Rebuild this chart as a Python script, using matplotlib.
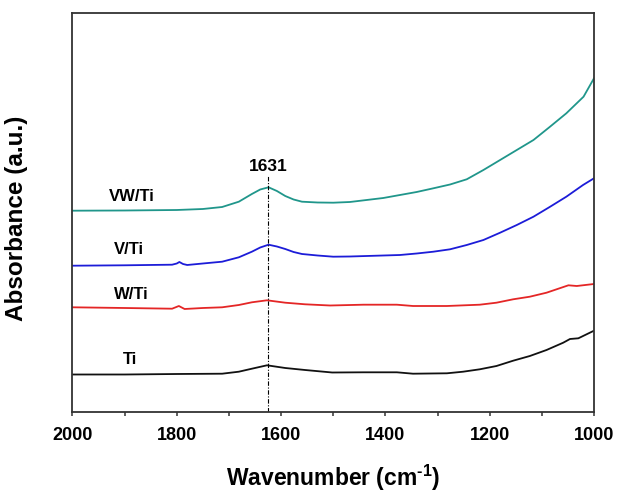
import numpy as np
import matplotlib.pyplot as plt
from matplotlib.ticker import MultipleLocator

plt.rcParams['font.family'] = ['Liberation Sans', 'DejaVu Sans']
plt.rcParams['font.weight'] = 'bold'
plt.rcParams['mathtext.fontset'] = 'custom'
plt.rcParams['mathtext.rm'] = 'Liberation Sans:bold'
plt.rcParams['mathtext.default'] = 'rm'

# FTIR spectra, absorbance in arbitrary units (offset traces)
wn_vwti = [2000, 1900, 1800, 1750, 1713, 1681, 1656, 1640, 1624, 1608, 1592, 1576,
           1560, 1530, 1500, 1468, 1436, 1404, 1372, 1340, 1308, 1276, 1244, 1212,
           1180, 1148, 1116, 1085, 1053, 1020, 1000]
abs_vwti = [2.013, 2.015, 2.02, 2.03, 2.05, 2.103, 2.18, 2.225, 2.247, 2.21, 2.16, 2.125,
            2.103, 2.095, 2.093, 2.10, 2.12, 2.14, 2.17, 2.20, 2.237, 2.275, 2.327, 2.42,
            2.52, 2.62, 2.72, 2.85, 2.987, 3.153, 3.337]

wn_vti = [2000, 1900, 1809, 1800, 1795, 1788, 1780, 1750, 1713, 1681, 1656, 1640,
          1624, 1608, 1592, 1576, 1560, 1530, 1500, 1468, 1436, 1404, 1372, 1340,
          1308, 1276, 1244, 1212, 1180, 1148, 1116, 1085, 1053, 1021, 1000]
abs_vti = [1.463, 1.467, 1.473, 1.485, 1.50, 1.48, 1.47, 1.485, 1.503, 1.547, 1.603, 1.645,
           1.673, 1.655, 1.63, 1.60, 1.58, 1.565, 1.553, 1.555, 1.56, 1.565, 1.57, 1.585,
           1.603, 1.627, 1.67, 1.72, 1.793, 1.87, 1.953, 2.05, 2.153, 2.27, 2.337]

wn_wti = [2000, 1900, 1809, 1796, 1785, 1750, 1713, 1681, 1656, 1627, 1592, 1554,
          1506, 1442, 1378, 1347, 1282, 1219, 1187, 1155, 1123, 1091, 1049, 1033, 1000]
abs_wti = [1.047, 1.04, 1.033, 1.06, 1.03, 1.04, 1.047, 1.07, 1.097, 1.117, 1.093, 1.077,
           1.065, 1.073, 1.073, 1.06, 1.06, 1.073, 1.093, 1.127, 1.153, 1.193, 1.267, 1.26, 1.28]

wn_ti = [2000, 1900, 1800, 1713, 1681, 1656, 1627, 1592, 1554, 1502, 1442, 1378,
         1347, 1282, 1251, 1219, 1187, 1155, 1123, 1091, 1059, 1046, 1030, 1000]
abs_ti = [0.375, 0.375, 0.38, 0.383, 0.403, 0.433, 0.467, 0.44, 0.42, 0.395, 0.397, 0.397,
          0.383, 0.387, 0.403, 0.427, 0.46, 0.513, 0.56, 0.62, 0.693, 0.73, 0.737, 0.813]

labels = ['VW/Ti', 'V/Ti', 'W/Ti', 'Ti']
label_pos = [(1886, 2.153), (1892, 1.62), (1888, 1.17), (1889, 0.52)]
peak_wn = 1625
peak_label = '1631'

fig = plt.figure(figsize=(6.21, 4.92), dpi=100)
ax = fig.add_axes([0.1167, 0.1626, 0.8398, 0.8110])

ax.plot(wn_vwti, abs_vwti, color='#20968b', lw=1.3)
ax.plot(wn_vti, abs_vti, color='#1c1cd8', lw=1.3)
ax.plot(wn_wti, abs_wti, color='#e42626', lw=1.3)
ax.plot(wn_ti, abs_ti, color='#111111', lw=1.3)

for lab, (x, y) in zip(labels, label_pos):
    ax.text(x, y, lab, ha='center', va='center', fontsize=12, fontweight='bold')

ax.plot([peak_wn, peak_wn], [0, 2.36], color='black', lw=0.8,
        dashes=(4, 1.5, 1, 1.5))
ax.text(peak_wn, 2.45, peak_label, ha='center', va='center', fontsize=12.5, fontweight='bold')

ax.set_xlim(2000, 1000)
ax.set_ylim(0, 3.99)
ax.xaxis.set_major_locator(MultipleLocator(200))
ax.xaxis.set_minor_locator(MultipleLocator(100))
ax.tick_params(axis='x', which='both', direction='out', length=3, width=1.1,
               color='#333333', labelsize=13, pad=8)
ax.tick_params(axis='y', left=False, labelleft=False)
for lbl in ax.get_xticklabels():
    lbl.set_fontweight('bold')
for sp in ax.spines.values():
    sp.set_color('#333333')
    sp.set_linewidth(1.3)

ax.set_xlabel(r'Wavenumber (cm$^{\text{-}1}$)', fontsize=16.5, fontweight='bold')
ax.xaxis.set_label_coords(0.5, -0.128)
ax.set_ylabel('Absorbance (a.u.)', fontsize=17.5, fontweight='bold')
ax.yaxis.set_label_coords(-0.085, 0.485)

fig.savefig('out.png', dpi=100)
